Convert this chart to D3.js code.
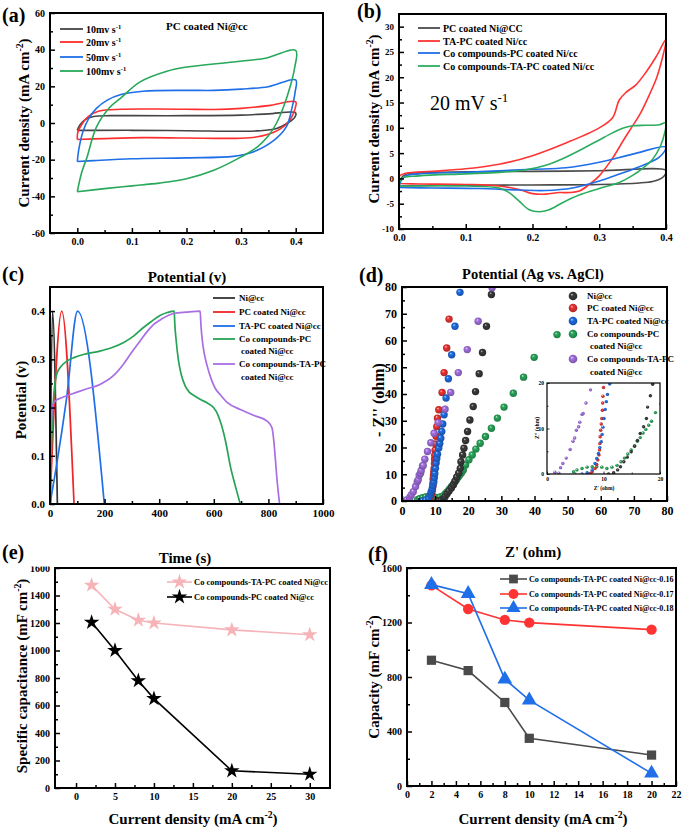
<!DOCTYPE html>
<html><head><meta charset="utf-8">
<script src="https://cdn.jsdelivr.net/npm/d3@7"></script>
<style>
body{margin:0;background:#fff}
svg{display:block}
text{font-family:"Liberation Serif","Times New Roman",serif;font-weight:bold;fill:#000}
</style>
</head><body>
<svg id="chart" width="685" height="833"></svg>
<script>
// ---------------- DATA ----------------
// (a) CV of PC coated Ni@cc at several scan rates: [potential V, current mA cm-2]
const cvLabelsA = ["10mv s", "20mv s", "50mv s", "100mv s"];
const cvA10 = [[0,-4],[0.005,-1],[0.015,2],[0.03,3.5],[0.06,4],[0.1,4],[0.2,4],[0.3,4.3],[0.35,5],[0.4,5.5],[0.398,3],[0.385,0],[0.365,-3],[0.33,-4.3],[0.3,-4.5],[0.2,-4.2],[0.1,-4],[0.03,-4],[0,-4]];
const cvA20 = [[0,-9],[0.001,-5],[0.01,0],[0.02,3.5],[0.04,6.5],[0.08,7.5],[0.15,7.6],[0.2,7.5],[0.25,7.4],[0.3,8],[0.35,9.5],[0.4,11.5],[0.399,8],[0.392,3],[0.38,-1.5],[0.36,-5],[0.33,-7.5],[0.3,-8.3],[0.2,-8.2],[0.12,-8],[0.05,-8.5],[0,-9]];
const cvA50 = [[0,-21],[0.003,-14],[0.01,-5],[0.02,2],[0.035,8],[0.055,12.5],[0.08,15.5],[0.12,17.3],[0.2,17.8],[0.25,17.8],[0.3,18.5],[0.35,19.8],[0.4,23.5],[0.399,17],[0.393,8],[0.383,-2],[0.36,-9.5],[0.322,-15.8],[0.286,-18.2],[0.2,-19],[0.1,-19.5],[0.03,-20.5],[0,-21]];
const cvA100 = [[0,-37.5],[0.008,-27],[0.018,-18.5],[0.035,-2.2],[0.06,8.7],[0.081,14],[0.115,22.4],[0.164,28.2],[0.2,30.5],[0.286,33.3],[0.347,35.5],[0.4,39.6],[0.398,30],[0.39,20],[0.378,9],[0.365,0],[0.35,-7],[0.33,-13],[0.3,-18.5],[0.25,-25.8],[0.2,-30.4],[0.15,-32.8],[0.1,-34.3],[0.05,-35.8],[0,-37.5]];

// (b) CV at 20 mV s-1
const cvLabelsB = ["PC coated Ni@CC", "TA-PC coated Ni/cc", "Co compounds-PC coated Ni/cc", "Co compounds-TA-PC coated Ni/cc"];
const cvB1 = [[0,-1.5],[0.003,0],[0.01,0.8],[0.03,1.1],[0.1,1.3],[0.2,1.4],[0.3,1.5],[0.4,1.6],[0.399,0.8],[0.393,0],[0.38,-0.6],[0.36,-0.9],[0.3,-1.2],[0.2,-1.3],[0.1,-1.35],[0,-1.5]];
const cvB2 = [[0,-1],[0.001,0.5],[0.01,1],[0.05,1.4],[0.1,1.9],[0.15,2.8],[0.2,4.5],[0.25,7],[0.3,10],[0.32,12],[0.33,15.5],[0.34,17],[0.355,18.5],[0.37,21],[0.385,24],[0.4,27.5],[0.393,23],[0.386,19.9],[0.375,16.5],[0.361,12.7],[0.348,10],[0.336,7.5],[0.32,4],[0.3,0.5],[0.285,-1.2],[0.27,-2.5],[0.255,-2.8],[0.24,-2.8],[0.22,-3.1],[0.2,-3],[0.18,-2.2],[0.15,-1.5],[0.1,-1.2],[0.03,-1.1],[0,-1]];
const cvB3 = [[0,-1.8],[0.003,-0.5],[0.01,0.5],[0.03,0.9],[0.1,1.2],[0.15,1.5],[0.2,1.8],[0.25,2.1],[0.3,3.2],[0.35,4.8],[0.4,6.2],[0.39,4.2],[0.36,2.3],[0.32,0.4],[0.29,-0.9],[0.26,-1.9],[0.22,-2.4],[0.18,-2.3],[0.12,-2],[0.05,-1.9],[0,-1.8]];
const cvB4 = [[0,-1.5],[0.004,0],[0.03,0.5],[0.1,0.9],[0.15,1.2],[0.19,1.7],[0.22,2.6],[0.25,4.2],[0.28,6.2],[0.3,7.6],[0.32,9],[0.335,9.9],[0.35,10.4],[0.37,10.5],[0.39,10.6],[0.4,11],[0.398,9],[0.392,6.5],[0.38,3.8],[0.365,2],[0.35,0.6],[0.33,-0.8],[0.3,-2],[0.27,-3.3],[0.245,-4.8],[0.225,-6.2],[0.21,-6.6],[0.195,-6.2],[0.18,-4.5],[0.165,-2.8],[0.15,-1.9],[0.1,-1.5],[0,-1.5]];

// (c) GCD curves: [time s, potential V]
const gcdLabels = ["Ni@cc", "PC coated Ni@cc", "TA-PC coated Ni@cc", "Co compounds-PC", "Co compounds-TA-PC"];
const gcdNi = [[0,0],[9,0.4],[27,0]];
const gcdPC = [[0,0],[43,0.4],[88,0]];
const gcdTAPC = [[0,0],[24,0.08],[61,0.22],[101,0.4],[199,0]];
const gcdCoPC = [[0,0],[4,0.1],[8,0.16],[12,0.21],[18,0.25],[25,0.27],[40,0.285],[61,0.296],[90,0.304],[122,0.31],[183,0.317],[230,0.325],[270,0.335],[306,0.348],[340,0.365],[370,0.378],[403,0.391],[430,0.397],[455,0.4],[457,0.375],[462,0.34],[470,0.3],[480,0.27],[495,0.245],[510,0.232],[530,0.224],[550,0.217],[575,0.21],[599,0.2],[615,0.185],[630,0.16],[645,0.125],[660,0.08],[680,0.035],[697,0]];
const gcdCoTAPC = [[0,0],[2,0.1],[5,0.17],[10,0.205],[18,0.213],[40,0.22],[80,0.228],[130,0.238],[183,0.248],[230,0.265],[269,0.29],[300,0.315],[330,0.338],[355,0.357],[379,0.372],[410,0.384],[452,0.395],[500,0.398],[550,0.4],[553,0.37],[560,0.33],[574,0.29],[590,0.26],[605,0.24],[623,0.227],[650,0.21],[697,0.196],[750,0.183],[795,0.172],[813,0.158],[820,0.13],[826,0.09],[831,0.054],[837,0.02],[841,0]];

// (d) Nyquist: [Z' ohm, -Z'' ohm]
const eisNi = [[10.9,0],[11.8,0.3],[12.5,0.9],[13,1.6],[13.6,2.7],[14.2,3.7],[14.9,4.9],[15.5,6.1],[16,7.4],[16.5,8.9],[17.1,10.4],[17.6,12.2],[17.8,14.7],[18.3,17.2],[18.7,19.7],[19.2,22.6],[19.8,26],[20.5,30.3],[21.5,35.3],[22.2,40.9],[23.3,47.6],[24.3,55.5],[25.5,65.3],[27.0,77.2]];
const eisPC = [[7.6,0.1],[8.0,0.5],[8.5,1.2],[8.8,2.1],[9.0,3.1],[9.2,4.2],[9.3,5.3],[9.35,6.7],[9.4,8.2],[9.5,9.6],[9.6,11],[9.7,12.2],[9.8,14],[9.85,15.6],[9.9,17.1],[10.0,19],[10.1,21.3],[10.3,24.2],[10.5,27.8],[10.7,31],[11.1,34.1],[12.1,40.6],[12.7,48],[13.5,57.2],[14.2,68]];
const eisTAPC = [[6.2,0],[7.1,0.3],[8.0,0.9],[8.5,2.3],[8.8,3.4],[9.1,4.5],[9.35,5.8],[9.6,7.1],[9.75,8.7],[9.9,10.3],[10.1,12.2],[10.3,14.2],[10.5,15.9],[10.7,17.5],[11.1,19.8],[11.4,21.5],[11.7,23.5],[12.0,26],[12.3,28.8],[12.7,32.2],[13.3,38.5],[14.0,45.7],[15.0,54.7],[16.0,65.3],[17.5,78]];
const eisCoPC = [[4.7,0.5],[5.3,0.9],[6.2,1.2],[7.1,1.5],[8.0,1.6],[8.8,1.6],[9.7,1.5],[10.6,1.2],[11.5,1.5],[12.4,1.9],[13.1,2.7],[13.7,3.5],[14.3,4.4],[14.9,5.3],[15.5,6.2],[16,7.2],[16.5,8],[17,9],[17.5,9.8],[18,10.7],[18.5,11.6],[19.2,13.5],[20.2,15.4],[21.2,17.2],[22.3,19.4],[23.6,21.6],[25.2,24.1],[27,27.2],[28.8,31],[30.8,35.1],[33.6,40.3],[36.7,46.3],[39.9,53.7],[46.8,62.2]];
const eisCoTAPC = [[1.4,0.4],[2.1,0.2],[2.4,1.4],[2.8,2.3],[3.4,3.5],[4.1,5.4],[4.6,7.2],[4.9,7.9],[5.2,9.6],[5.6,10.4],[5.8,11.4],[6.2,13.1],[6.4,13.3],[6.9,15.6],[7.7,18.5],[8.7,21.8],[9.7,25.3],[10.9,29.3],[13,34.3],[14.7,40.6],[17,48],[19.7,56.6],[23,67.2],[27.2,79.7]];

// (e) specific capacitance vs current density
const eCurrent = [2, 5, 8, 10, 20, 30];
const eCoTAPC = [1475, 1300, 1220, 1200, 1150, 1115];
const eCoPC = [1205, 1000, 780, 650, 125, 100];
const eLabels = ["Co compounds-TA-PC coated Ni@cc", "Co compounds-PC coated Ni@cc"];

// (f) capacity vs current density
const fCurrent = [2, 5, 8, 10, 20];
const f016 = [923, 847, 613, 350, 227];
const f017 = [1473, 1299, 1219, 1199, 1148];
const f018 = [1478, 1412, 784, 630, 93];
const fLabels = ["Co compounds-TA-PC coated Ni@cc-0.16", "Co compounds-TA-PC coated Ni@cc-0.17", "Co compounds-TA-PC coated Ni@cc-0.18"];

// ---------------- DRAWING ----------------
const svg = d3.select("#chart");
const defs = svg.append("defs");

function rich(sel, parts, fs) {
  parts.forEach(([s, sup], i) => {
    const t = sel.append("tspan").text(s);
    if (sup) t.attr("font-size", fs * 0.65).attr("dy", -fs * 0.4);
    else if (i > 0 && parts[i - 1][1]) t.attr("dy", fs * 0.4);
  });
}
function label(x, y, txt, fs, opt = {}) {
  const t = svg.append("text").attr("x", x).attr("y", y).attr("font-size", fs)
    .attr("text-anchor", opt.anchor || "start");
  if (opt.weight) t.style("font-weight", opt.weight);
  if (Array.isArray(txt)) rich(t, txt, fs); else t.text(txt);
  return t;
}
function vlabel(x, y, txt, fs) {
  const t = svg.append("text").attr("transform", `translate(${x},${y}) rotate(-90)`)
    .attr("font-size", fs).attr("text-anchor", "middle");
  if (Array.isArray(txt)) rich(t, txt, fs); else t.text(txt);
  return t;
}

let clipN = 0;
function panel(o) {
  const g = svg.append("g");
  const x = d3.scaleLinear().domain(o.xd).range([o.l, o.r]);
  const y = d3.scaleLinear().domain(o.yd).range([o.b, o.t]);
  const id = "clip" + (clipN++);
  defs.append("clipPath").attr("id", id).append("rect")
    .attr("x", o.l).attr("y", o.t).attr("width", o.r - o.l).attr("height", o.b - o.t);
  const plot = g.append("g").attr("clip-path", `url(#${id})`);
  const tl = o.tl || 5, tm = o.tm || 3;
  const fs = o.fs || 10, fsy = o.fsy || fs;
  const xa = g.append("g").attr("transform", `translate(0,${o.b})`)
    .call(d3.axisBottom(x).tickValues(o.xt).tickSize(-tl).tickPadding(o.xpad || 5).tickFormat(o.xf || (d => d)));
  const xm = g.append("g").attr("transform", `translate(0,${o.b})`)
    .call(d3.axisBottom(x).tickValues(o.xm || []).tickSize(-tm).tickFormat(""));
  const ya = g.append("g").attr("transform", `translate(${o.l},0)`)
    .call(d3.axisLeft(y).tickValues(o.yt).tickSize(-tl).tickPadding(o.ypad || 5).tickFormat(o.yf || (d => d)));
  const ym = g.append("g").attr("transform", `translate(${o.l},0)`)
    .call(d3.axisLeft(y).tickValues(o.ym || []).tickSize(-tm).tickFormat(""));
  [xa, xm, ya, ym].forEach(a => {
    a.select(".domain").remove();
    a.selectAll("line").attr("stroke", "#000").attr("stroke-width", o.tw || 1.5);
  });
  xa.selectAll("text").attr("font-size", fs).attr("font-family", null).style("font-weight", "bold");
  ya.selectAll("text").attr("font-size", fsy).attr("font-family", null).style("font-weight", "bold");
  return { g, plot, x, y, ya, xa, frame: () => g.append("rect").attr("x", o.l).attr("y", o.t)
    .attr("width", o.r - o.l).attr("height", o.b - o.t).attr("fill", "none")
    .attr("stroke", "#000").attr("stroke-width", o.fw || 2) };
}

const fmt1 = d => d3.format(".1f")(d);
const loop = d3.line().curve(d3.curveCatmullRom.alpha(0.5));

// ----- (a)
{
  const p = panel({ l: 50, r: 323, t: 13, b: 233, xd: [-0.05, 0.45], yd: [-60, 60],
    xt: [0, 0.1, 0.2, 0.3, 0.4], xm: [0.05, 0.15, 0.25, 0.35], yt: d3.range(-60, 61, 20), ym: d3.range(-50, 51, 20),
    xf: fmt1, fs: 10 });
  const sets = [cvA10, cvA20, cvA50, cvA100];
  const cols = ["#454545", "#ff2e2e", "#1f6fe8", "#27a85a"];
  sets.forEach((s, i) => {
    p.plot.append("path").attr("d", loop.x(d => p.x(d[0])).y(d => p.y(d[1]))(s))
      .attr("fill", "none").attr("stroke", cols[i]).attr("stroke-width", 1.6);
  });
  p.frame();
  const rows = [29, 42, 57, 71];
  cvLabelsA.forEach((l, i) => {
    svg.append("line").attr("x1", 60).attr("x2", 83).attr("y1", rows[i]).attr("y2", rows[i])
      .attr("stroke", cols[i]).attr("stroke-width", 1.8);
    label(86, rows[i] + 3.5, [[l, 0], ["-1", 1]], 10);
  });
  label(166, 30, "PC coated Ni@cc", 11);
  vlabel(29, 123, [["Current density (mA cm", 0], ["-2", 1], [")", 0]], 15);
  label(2, 22, "(a)", 20);
}

// ----- (b)
{
  const p = panel({ l: 399, r: 666, t: 14, b: 229, xd: [0, 0.4], yd: [-10, 32.5],
    xt: [0, 0.1, 0.2, 0.3, 0.4], xm: [0.05, 0.15, 0.25, 0.35], yt: d3.range(-10, 31, 5), ym: d3.range(-7.5, 31, 5),
    xf: fmt1, fs: 10, fsy: 9 });
  const sets = [cvB1, cvB2, cvB3, cvB4];
  const cols = ["#4a4a4a", "#ff3535", "#1f6fe8", "#2aad5e"];
  sets.forEach((s, i) => {
    p.plot.append("path").attr("d", loop.x(d => p.x(d[0])).y(d => p.y(d[1]))(s))
      .attr("fill", "none").attr("stroke", cols[i]).attr("stroke-width", 1.6);
  });
  p.frame();
  const rows = [28, 41, 53, 66];
  cvLabelsB.forEach((l, i) => {
    svg.append("line").attr("x1", 418).attr("x2", 440).attr("y1", rows[i]).attr("y2", rows[i])
      .attr("stroke", cols[i]).attr("stroke-width", 1.8);
    label(443, rows[i] + 3.5, l, 10);
  });
  label(430, 110, [["20 mV s", 0], ["-1", 1]], 20, { weight: "normal" });
  vlabel(379, 119, [["Current density (mA cm", 0], ["-2", 1], [")", 0]], 15);
  label(357, 18, "(b)", 20);
}

// ----- (c)
{
  const p = panel({ l: 50, r: 323, t: 287, b: 504, xd: [0, 1000], yd: [0, 0.45],
    xt: d3.range(0, 1001, 200), xm: d3.range(100, 1000, 200), yt: [0, 0.1, 0.2, 0.3, 0.4], ym: [0.05, 0.15, 0.25, 0.35],
    yf: fmt1, fs: 11 });
  const sets = [gcdNi, gcdPC, gcdTAPC, gcdCoPC, gcdCoTAPC];
  const cols = ["#333333", "#f02525", "#1f6fe8", "#27a356", "#a86ee3"];
  const line = d3.line().curve(d3.curveMonotoneX).x(d => p.x(d[0])).y(d => p.y(d[1]));
  sets.forEach((s, i) => {
    p.plot.append("path").attr("d", line(s)).attr("fill", "none")
      .attr("stroke", cols[i]).attr("stroke-width", 1.7);
  });
  p.frame();
  const rows = [298, 312, 326, 339, 364];
  gcdLabels.forEach((l, i) => {
    svg.append("line").attr("x1", 213).attr("x2", 235).attr("y1", rows[i]).attr("y2", rows[i])
      .attr("stroke", cols[i]).attr("stroke-width", 1.8);
    label(239, rows[i] + 3, l, 9);
  });
  label(241, 354, "coated Ni@cc", 9);
  label(241, 380, "coated Ni@cc", 9);
  label(187, 282, "Potential (v)", 15, { anchor: "middle" });
  vlabel(26, 400, "Potential (v)", 15);
  label(2, 281, "(c)", 20);
}

// ----- (d)
{
  const cols = ["#3b3b3b", "#ee3434", "#1f6ee6", "#2aa85c", "#a672e4"];
  cols.forEach((c, i) => {
    const gr = defs.append("radialGradient").attr("id", "ball" + i)
      .attr("cx", "50%").attr("cy", "50%").attr("r", "55%").attr("fx", "35%").attr("fy", "30%");
    gr.append("stop").attr("offset", "0%").attr("stop-color", d3.interpolateRgb(c, "#fff")(0.75));
    gr.append("stop").attr("offset", "30%").attr("stop-color", c);
    gr.append("stop").attr("offset", "100%").attr("stop-color", d3.interpolateRgb(c, "#000")(0.3));
  });
  const p = panel({ l: 402, r: 667, t: 287, b: 501, xd: [0, 80], yd: [0, 80],
    xt: d3.range(0, 81, 10), xm: d3.range(5, 80, 10), yt: d3.range(0, 81, 10), ym: d3.range(5, 80, 10), fs: 12 });
  const sets = [eisNi, eisPC, eisTAPC, eisCoPC, eisCoTAPC];
  const order = [3, 0, 1, 2, 4];
  order.forEach(i => {
    p.plot.append("g").selectAll("circle").data(sets[i]).join("circle")
      .attr("cx", d => p.x(d[0])).attr("cy", d => p.y(d[1])).attr("r", 3.7)
      .attr("fill", `url(#ball${i})`);
  });
  p.frame();
  // inset
  const q = panel({ l: 547, r: 660, t: 383, b: 474, xd: [0, 20], yd: [0, 20],
    xt: [0, 10, 20], xm: [5, 15], yt: [0, 10, 20], ym: [5, 15], fs: 5.5, tl: 2.5, tm: 1.5, tw: 0.8,
    xpad: 3, ypad: 3, fw: 1.2 });
  q.g.insert("rect", ":first-child").attr("x", 547).attr("y", 383).attr("width", 113).attr("height", 91).attr("fill", "#fff");
  order.forEach(i => {
    q.plot.append("g").selectAll("circle").data(sets[i]).join("circle")
      .attr("cx", d => q.x(d[0])).attr("cy", d => q.y(d[1])).attr("r", 1.7)
      .attr("fill", `url(#ball${i})`);
  });
  q.frame();
  label(604, 490, "Z' (ohm)", 5.5, { anchor: "middle" });
  vlabel(539, 428, "Z'' (ohm)", 5.5);
  const rows = [296, 308, 321, 334, 359];
  const names = ["Ni@cc", "PC coated Ni@cc", "TA-PC coated Ni@cc", "Co compounds-PC", "Co compounds-TA-PC"];
  names.forEach((l, i) => {
    svg.append("circle").attr("cx", 573).attr("cy", rows[i]).attr("r", 4.3).attr("fill", `url(#ball${i})`);
    label(587, rows[i] + 3, l, 9);
  });
  label(590, 349, "coated Ni@cc", 9);
  label(590, 375, "coated Ni@cc", 9);
  label(533, 279, "Potential (Ag vs. AgCl)", 14.5, { anchor: "middle" });
  vlabel(384, 400, "- Z'' (ohm)", 16);
  label(359, 282, "(d)", 20);
}

// ----- (e)
{
  const p = panel({ l: 55, r: 330, t: 568, b: 788, xd: [-2.7, 32.6], yd: [0, 1600],
    xt: d3.range(0, 31, 5), xm: d3.range(2.5, 31, 5), yt: d3.range(0, 1601, 200), ym: d3.range(100, 1600, 200), fs: 10 });
  // top tick label partly hidden as in the reference
  defs.append("clipPath").attr("id", "eclip").append("rect").attr("x", -60).attr("y", 566.5).attr("width", 70).attr("height", 240);
  p.ya.attr("clip-path", "url(#eclip)");
  const star = d3.symbol().type(d3.symbolStar).size(75);
  const sets = [eCoTAPC, eCoPC];
  const cols = ["#f6b3b8", "#000000"];
  const line = d3.line().x((d, i) => p.x(eCurrent[i])).y(d => p.y(d));
  sets.forEach((s, i) => {
    p.plot.append("path").attr("d", line(s)).attr("fill", "none").attr("stroke", cols[i]).attr("stroke-width", 1.6);
    p.plot.append("g").selectAll("path").data(s).join("path")
      .attr("d", star).attr("transform", (d, j) => `translate(${p.x(eCurrent[j])},${p.y(d)})`)
      .attr("fill", cols[i]);
  });
  p.frame();
  const rows = [582, 597];
  eLabels.forEach((l, i) => {
    svg.append("line").attr("x1", 167).attr("x2", 192).attr("y1", rows[i]).attr("y2", rows[i])
      .attr("stroke", cols[i]).attr("stroke-width", 1.6);
    svg.append("path").attr("d", star).attr("transform", `translate(179.5,${rows[i]})`).attr("fill", cols[i]);
    label(194, rows[i] + 3, l, 8.5);
  });
  label(185, 563, "Time (s)", 15, { anchor: "middle" });
  label(193, 824, [["Current density (mA cm", 0], ["-2", 1], [")", 0]], 15, { anchor: "middle" });
  vlabel(27, 676, [["Specific capacitance (mF cm", 0], ["-2", 1], [")", 0]], 15);
  label(2, 559, "(e)", 20);
}

// ----- (f)
{
  const p = panel({ l: 407, r: 676, t: 568, b: 786, xd: [0, 22], yd: [0, 1600],
    xt: d3.range(0, 23, 2), xm: d3.range(1, 22, 2), yt: d3.range(0, 1601, 400), ym: d3.range(200, 1600, 400), fs: 10 });
  const sets = [f016, f017, f018];
  const cols = ["#4a4a4a", "#ff3333", "#1f6fe8"];
  const syms = [d3.symbolSquare, d3.symbolCircle, d3.symbolTriangle];
  const sizes = [85, 85, 95];
  const line = d3.line().x((d, i) => p.x(fCurrent[i])).y(d => p.y(d));
  sets.forEach((s, i) => {
    p.plot.append("path").attr("d", line(s)).attr("fill", "none").attr("stroke", cols[i]).attr("stroke-width", 1.6);
  });
  sets.forEach((s, i) => {
    const sym = d3.symbol().type(syms[i]).size(sizes[i]);
    p.g.append("g").selectAll("path").data(s).join("path")
      .attr("d", sym).attr("transform", (d, j) => `translate(${p.x(fCurrent[j])},${p.y(d)})`)
      .attr("fill", cols[i]);
  });
  p.frame();
  const rows = [579, 594, 608];
  fLabels.forEach((l, i) => {
    svg.append("line").attr("x1", 500).attr("x2", 527).attr("y1", rows[i]).attr("y2", rows[i])
      .attr("stroke", cols[i]).attr("stroke-width", 1.6);
    svg.append("path").attr("d", d3.symbol().type(syms[i]).size(sizes[i] * 0.9)())
      .attr("transform", `translate(513.5,${rows[i]})`).attr("fill", cols[i]);
    label(529, rows[i] + 3, l, 8.1);
  });
  label(533, 557, "Z' (ohm)", 15, { anchor: "middle" });
  label(543, 824, [["Current density (mA cm", 0], ["-2", 1], [")", 0]], 15, { anchor: "middle" });
  vlabel(379, 677, [["Capacity (mF cm", 0], ["-2", 1], [")", 0]], 15);
  label(368, 561, "(f)", 20);
}
</script>
</body></html>
